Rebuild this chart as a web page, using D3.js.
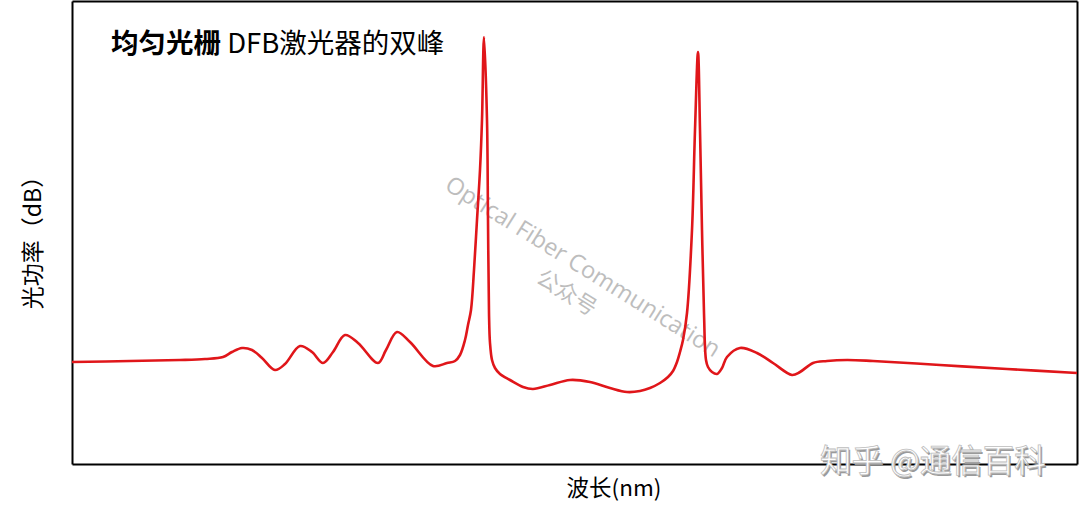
<!DOCTYPE html>
<html>
<head>
<meta charset="utf-8">
<script src="https://cdn.jsdelivr.net/npm/d3@7"></script>
<style>
  html, body { margin: 0; padding: 0; background: #fff; }
  svg { display: block; }
</style>
</head>
<body>
<svg id="chart" width="1080" height="506"></svg>
<script>
// Relative wavelength (arbitrary units along the x axis)
const wavelength = [
  0, 58, 108, 133, 151, 160, 170, 180, 190, 203, 213, 228, 240, 251, 261, 273, 286,
  306, 314, 325, 338, 361, 375, 383, 388, 393, 396, 399, 402, 405, 408, 410, 412,
  415, 416, 417, 418, 420, 423, 428, 438, 451, 461, 478, 498, 518, 538, 555, 568,
  578, 588, 596, 601, 605, 608, 611, 615, 620, 623, 626, 628, 630, 632, 634, 636,
  640, 645, 650, 655, 668, 685, 701, 720, 728, 741, 755, 775, 801, 868, 935, 1005
];
// Relative optical power (arbitrary units, higher = more power)
const power = [
  102, 103, 104, 105, 107, 112, 116, 114, 106, 94, 100, 118, 112, 101, 112, 129, 121,
  101, 114, 132, 122, 98, 101, 103, 109, 124, 139, 154, 194, 244, 294, 344, 427,
  344, 244, 151, 121, 104, 96, 90, 84, 77, 75, 79, 84, 82, 76, 72, 73,
  76, 81, 87, 93, 102, 112, 124, 151, 234, 334, 412, 334, 234, 151, 104, 97,
  92, 90, 96, 107, 116, 111, 101, 89, 92, 101, 103, 104, 103, 99, 95, 91
];
const xDomain = [0, 1005];
const yDomain = [0, 463];

const titleBold = "均匀光栅";
const titleRest = " DFB激光器的双峰";
const xLabel = "波长(nm)";
const yLabel = "光功率（dB）";
const watermark1 = "Optical Fiber Communication";
const watermark2 = "公众号";
const zhihuMark = "知乎 @通信百科";

const svg = d3.select("#chart");
const mLeft = 72, mRight = 1077, mTop = 1, mBottom = 464;

const x = d3.scaleLinear().domain(xDomain).range([mLeft, mRight]);
const y = d3.scaleLinear().domain(yDomain).range([mBottom, mTop]);

// Axes (no ticks), forming a full frame
const axisStyle = g => g.call(s => s.select(".domain").attr("stroke", "#000").attr("stroke-width", 2));
svg.append("g").attr("transform", `translate(0,${mBottom})`)
  .call(d3.axisBottom(x).tickValues([]).tickSizeOuter(0)).call(axisStyle);
svg.append("g").attr("transform", `translate(0,${mTop})`)
  .call(d3.axisTop(x).tickValues([]).tickSizeOuter(0)).call(axisStyle);
svg.append("g").attr("transform", `translate(${mLeft},0)`)
  .call(d3.axisLeft(y).tickValues([]).tickSizeOuter(0)).call(axisStyle);
svg.append("g").attr("transform", `translate(${mRight},0)`)
  .call(d3.axisRight(y).tickValues([]).tickSizeOuter(0)).call(axisStyle);

// Watermark (behind curve)
const cjk = "'Noto Sans CJK SC', 'Noto Sans', sans-serif";
const wm = svg.append("g").attr("fill", "#bdbdbd");
wm.append("text")
  .attr("transform", "translate(582,268) rotate(32)")
  .attr("text-anchor", "middle").attr("dominant-baseline", "middle")
  .attr("font-family", "'Open Sans', 'Noto Sans', sans-serif")
  .attr("font-size", 23.5).attr("font-weight", 400)
  .text(watermark1);
wm.append("text")
  .attr("transform", "translate(566,294) rotate(32)")
  .attr("text-anchor", "middle").attr("dominant-baseline", "middle")
  .attr("font-family", cjk).attr("font-size", 22).attr("font-weight", 400)
  .text(watermark2);

// Curve
const data = wavelength.map((w, i) => ({ w, p: power[i] }));
const line = d3.line().x(d => x(d.w)).y(d => y(d.p)).curve(d3.curveCatmullRom.alpha(0.5));
svg.append("path").datum(data)
  .attr("d", line)
  .attr("fill", "none")
  .attr("stroke", "#e0161a")
  .attr("stroke-width", 2.6)
  .attr("stroke-linejoin", "round");

// Title
const title = svg.append("text").attr("x", 111).attr("y", 53)
  .attr("font-family", cjk).attr("font-size", 27.5).attr("fill", "#000");
title.append("tspan").attr("font-weight", 700).text(titleBold);
title.append("tspan").attr("font-weight", 400).text(titleRest);

// Axis labels
svg.append("text").attr("x", 614).attr("y", 496)
  .attr("text-anchor", "middle")
  .attr("font-family", cjk).attr("font-size", 22.5).attr("fill", "#000")
  .text(xLabel);
svg.append("text")
  .attr("transform", "translate(41,237) rotate(-90)")
  .attr("text-anchor", "middle")
  .attr("font-family", cjk).attr("font-size", 23).attr("fill", "#000")
  .text(yLabel);

// Zhihu watermark
const zm = svg.append("g").attr("font-family", cjk).attr("font-size", 31.5);
zm.append("text").attr("x", 820).attr("y", 472).attr("fill", "#9a9a9a").text(zhihuMark)
  .attr("transform", "translate(1.5,1.5)");
zm.append("text").attr("x", 820).attr("y", 472).attr("fill", "#fff")
  .attr("stroke", "#bdbdbd").attr("stroke-width", 0.8).text(zhihuMark);
</script>
</body>
</html>
